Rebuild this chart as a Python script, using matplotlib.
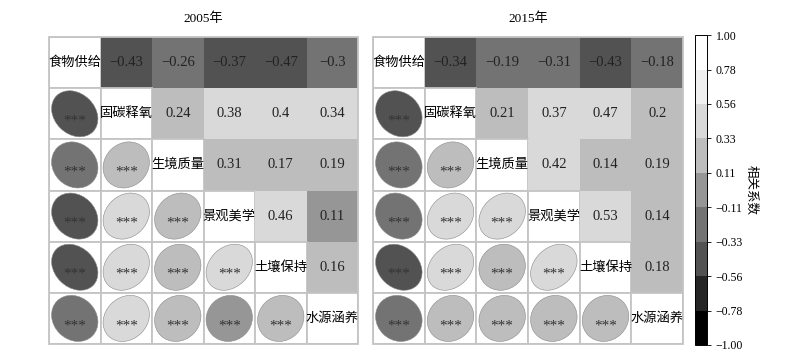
import numpy as np
import matplotlib
matplotlib.use("Agg")
import matplotlib.pyplot as plt
from matplotlib.colors import ListedColormap, BoundaryNorm
from matplotlib.patches import Rectangle, Ellipse
from matplotlib.cm import ScalarMappable

plt.rcParams['font.family'] = ['Liberation Serif', 'Noto Sans CJK SC', 'DejaVu Sans']

services = ["食物供给", "固碳释氧", "生境质量", "景观美学", "土壤保持", "水源涵养"]
titles = ["2005年", "2015年"]

# upper-triangle correlations, row by row
r2005_row1 = [-0.43, -0.26, -0.37, -0.47, -0.3]
r2005_row2 = [0.24, 0.38, 0.4, 0.34]
r2005_row3 = [0.31, 0.17, 0.19]
r2005_row4 = [0.46, 0.11]
r2005_row5 = [0.16]

r2015_row1 = [-0.34, -0.19, -0.31, -0.43, -0.18]
r2015_row2 = [0.21, 0.37, 0.47, 0.2]
r2015_row3 = [0.42, 0.14, 0.19]
r2015_row4 = [0.53, 0.14]
r2015_row5 = [0.18]

sig_label = "***"
cbar_ticks = [1.00, 0.78, 0.56, 0.33, 0.11, -0.11, -0.33, -0.56, -0.78, -1.00]
grey_levels = ["#000000", "#252525", "#525252", "#737373", "#969696",
               "#bdbdbd", "#d9d9d9", "#f0f0f0", "#ffffff"]


def build(rows):
    n = len(rows) + 1
    m = np.eye(n)
    for i, row in enumerate(rows):
        for k, v in enumerate(row):
            j = i + 1 + k
            m[i, j] = v
            m[j, i] = v
    return m


mats = [build([r2005_row1, r2005_row2, r2005_row3, r2005_row4, r2005_row5]),
        build([r2015_row1, r2015_row2, r2015_row3, r2015_row4, r2015_row5])]

cmap = ListedColormap(grey_levels)
norm = BoundaryNorm(np.linspace(-1, 1, 10), cmap.N)

fig = plt.figure(figsize=(8.0, 3.62), dpi=100)
axes = [fig.add_axes([0.06125, 0.0497, 0.38625, 0.848]),
        fig.add_axes([0.46625, 0.0497, 0.3875, 0.848])]
cax = fig.add_axes([0.86875, 0.047, 0.0145, 0.856])

grid_col = "#c4c4c4"
n = len(services)
for ax, m, title in zip(axes, mats, titles):
    ax.set_xlim(0, n)
    ax.set_ylim(n, 0)
    ax.set_axis_off()
    for i in range(n):
        for j in range(n):
            v = m[i, j]
            if j > i:
                ax.add_patch(Rectangle((j, i), 1, 1, facecolor=cmap(norm(v)),
                                       edgecolor='none', lw=0))
                txt = f"{v:g}".replace("-", "\u2212")
                ax.text(j + 0.5, i + 0.5, txt, ha='center', va='center',
                        fontsize=10.5, color="#222222")
            elif j == i:
                ax.add_patch(Rectangle((j, i), 1, 1, facecolor='white',
                                       edgecolor=grid_col, lw=1.3))
                ax.text(j + 0.5, i + 0.5, services[i], ha='center', va='center',
                        fontsize=9.5, color='black')
            else:
                ax.add_patch(Rectangle((j, i), 1, 1, facecolor='white',
                                       edgecolor=grid_col, lw=1.3))
                s = 0.45
                ratio = ((1 - abs(v)) / (1 + abs(v))) ** 0.25
                A = s * np.sqrt(2 / (1 + ratio ** 2))
                B = ratio * A
                ang = -45 if v > 0 else 45
                ax.add_patch(Ellipse((j + 0.5, i + 0.5), 2 * A, 2 * B, angle=ang,
                                     facecolor=cmap(norm(v)),
                                     edgecolor="#8a8a8a", lw=0.4))
                ax.text(j + 0.5, i + 0.64, sig_label, ha='center', va='center',
                        fontsize=11, color="#333333")
    ax.add_patch(Rectangle((0, 0), n, n, facecolor='none', edgecolor=grid_col,
                           lw=1.3, clip_on=False))
    ax.set_title(title, fontsize=9.5, pad=11)

sm = ScalarMappable(norm=norm, cmap=cmap)
cb = fig.colorbar(sm, cax=cax, boundaries=np.linspace(-1, 1, 10))
cb.set_ticks(np.linspace(-1, 1, 10))
cb.set_ticklabels([f"{t:.2f}".replace("-", "\u2212") for t in sorted(cbar_ticks)])
cb.ax.tick_params(labelsize=8.5, length=3, width=0.6)
cb.outline.set_linewidth(0.7)
cb.set_label("相关系数", rotation=-90, fontsize=9, labelpad=10)

fig.savefig("out.png", dpi=100)
